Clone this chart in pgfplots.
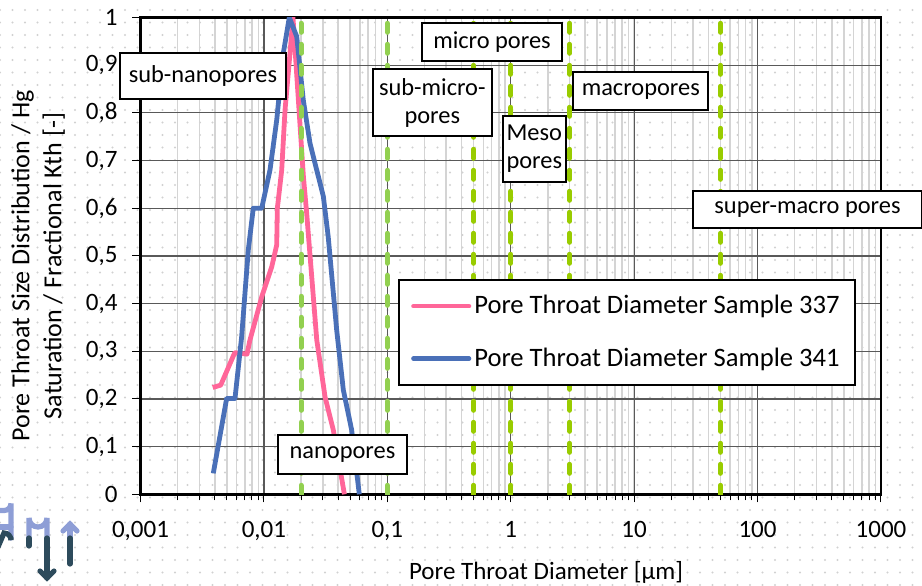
\documentclass[border=0pt]{standalone}
\usepackage{fontspec}
\setmainfont{Carlito}
\usepackage{pgfplots}
\pgfplotsset{compat=1.18}
\usetikzlibrary{patterns}

\definecolor{pinkline}{HTML}{FF6699}
\definecolor{blueline}{HTML}{4A70B8}
\definecolor{gA}{HTML}{92D050}
\definecolor{gB}{HTML}{99CC00}
\definecolor{logoL}{HTML}{8E9ED6}
\definecolor{logoD}{HTML}{2D4B5C}

% light dotted page background
\pgfdeclarepatternformonly{bgdots}{\pgfqpoint{-1pt}{-1pt}}{\pgfqpoint{1pt}{1pt}}{\pgfqpoint{6.25pt}{6.25pt}}{%
  \pgfpathcircle{\pgfqpoint{0pt}{0pt}}{0.55pt}\pgfusepath{fill}}

% pixel grid of the reference: 1px = 0.5pt, origin at top-left
\tikzset{px/.style={shift={(-70.25pt,247.15pt)}, x=0.5pt, y=-0.5pt}}
\tikzset{lbl/.style={draw=black, line width=1pt, fill=white, inner sep=0pt,
  align=center, font=\fontsize{12.2}{14}\selectfont}}

\begin{document}
\begin{tikzpicture}[font=\fontsize{12.5}{15}\selectfont]
\fill[px, pattern=bgdots, pattern color=black!18] (0,0) rectangle (922,585);

\begin{axis}[at={(0,0)}, anchor=south west, scale only axis,
  width=370.25pt, height=238.4pt,
  xmode=log, xmin=0.001, xmax=1000, ymin=0, ymax=1,
  xtick={0.001,0.01,0.1,1,10,100,1000},
  xticklabels={{0,001},{0,01},{0,1},1,10,100,1000},
  ytick={0,0.1,0.2,0.3,0.4,0.5,0.6,0.7,0.8,0.9,1},
  yticklabel style={xshift=-4pt, /pgf/number format/.cd, fixed, precision=1, use comma, assume math mode=true},
  xticklabel style={yshift=-6pt},
  tick align=outside, xtick pos=bottom, ytick pos=left,
  major tick length=4pt, minor tick length=3pt,
  tick style={black, line width=0.5pt},
  axis line style={black, line width=1.2pt},
  xmajorgrids, xminorgrids, ymajorgrids,
  major grid style={black!65, line width=0.6pt},
  minor grid style={black!17, line width=0.75pt},
  xlabel={Pore Throat Diameter [µm]},
  ylabel={Pore Throat Size Distribution / Hg\\Saturation / Fractional Kth [-]},
  every axis x label/.style={at={(axis description cs:0.5476,-0.163)}, anchor=center},
  every axis y label/.style={at={(axis description cs:-0.1384,0.479)}, anchor=center,
    rotate=90, align=center, font=\fontsize{13}{16}\selectfont},
  legend style={at={(axis description cs:0.348,0.451)}, anchor=north west,
    draw=black, line width=1pt, fill=white, inner xsep=6pt, inner ysep=5.6pt,
    row sep=11.5pt, font=\fontsize{13.3}{16}\selectfont,
    cells={anchor=west}, nodes={inner xsep=1.5pt}},
  legend image code/.code={\draw[#1, line width=2.25pt, line cap=round] (0pt,0pt) -- (27.8pt,0pt);},
]
\addplot[pinkline, line width=2.4pt, line join=round] coordinates {
  (0.00385,0.224) (0.00447,0.229) (0.0058,0.297) (0.0073,0.294) (0.0077,0.323)
  (0.0096,0.414) (0.01157,0.477) (0.0127,0.523) (0.01285,0.60) (0.01394,0.68)
  (0.01483,0.806) (0.01627,0.925) (0.0172,1.0) (0.0209,0.666) (0.0222,0.59)
  (0.0268,0.324) (0.0313,0.204) (0.0365,0.135) (0.0449,0)};
\addlegendentry{Pore Throat Diameter Sample 337}
\addplot[blueline, line width=2.4pt, line join=round] coordinates {
  (0.00389,0.044) (0.00499,0.201) (0.00583,0.201) (0.0066,0.33) (0.00747,0.512)
  (0.0082,0.60) (0.0096,0.60) (0.0112,0.68) (0.0127,0.785) (0.01436,0.925)
  (0.01606,1.0) (0.01845,0.96) (0.02085,0.827) (0.02364,0.736) (0.0303,0.625)
  (0.0332,0.54) (0.0389,0.344) (0.044,0.219) (0.0514,0.135) (0.0593,0)};
\addlegendentry{Pore Throat Diameter Sample 341}
% pore class boundaries
\pgfplotsset{bound/.style={line width=2.5pt, dash pattern=on 4.5pt off 6pt, line cap=round, forget plot}}
\addplot[gA, bound] coordinates {(0.02,0) (0.02,1)};
\addplot[gA, bound] coordinates {(0.1,0) (0.1,1)};
\addplot[gB, bound] coordinates {(0.5,0) (0.5,1)};
\addplot[gB, bound] coordinates {(1,0) (1,1)};
\addplot[gB, bound] coordinates {(3,0) (3,1)};
\addplot[gB, bound] coordinates {(50,0) (50,1)};
\end{axis}

\begin{scope}[px]
\node[lbl, minimum width=83pt, minimum height=23pt] at (203,76) {sub-nanopores};
\node[lbl, minimum width=59.7pt, minimum height=33.5pt] at (432.3,102.5) {sub-micro-\\pores};
\node[lbl, minimum width=69.7pt, minimum height=19.2pt] at (492,41.8) {micro pores};
\node[lbl, minimum width=67.5pt, minimum height=18.9pt] at (640.8,91.2) {macropores};
\node[lbl, minimum width=31.7pt, minimum height=33pt] at (534.3,148.7) {Meso\\pores};
\node[lbl, minimum width=114.5pt, minimum height=18.8pt] at (807.5,209.5) {super-macro pores};
\node[lbl, minimum width=64.2pt, minimum height=19.5pt] at (342.5,454.5) {nanopores};
% logo fragment
\begin{scope}[line width=2.6pt, line cap=round]
\draw[logoL] (-2,510.5) -- (4,510.5) arc[start angle=90, end angle=0, radius=7] -- (11,538);
\draw[logoL] (-2,527) -- (11,527);
\draw[logoD] (11,538) -- (11,540) arc[start angle=0, end angle=-90, radius=7] -- (-2,547);
\draw[logoL] (29,538) -- (29,518) arc[start angle=180, end angle=0, radius=9] -- (47,538);
\draw[logoD] (29,538) -- (29,546);
\draw[logoD] (47,538) -- (47,578);
\draw[logoD] (40,571) -- (47,578) -- (54,571);
\draw[logoL] (70,538) -- (70,524);
\draw[logoL] (63,531) -- (70,524) -- (77,531);
\draw[logoD] (70,538) -- (70,564);
\end{scope}
\end{scope}

\pgfresetboundingbox
\path[px, use as bounding box] (0,0) rectangle (922,585);
\end{tikzpicture}
\end{document}
